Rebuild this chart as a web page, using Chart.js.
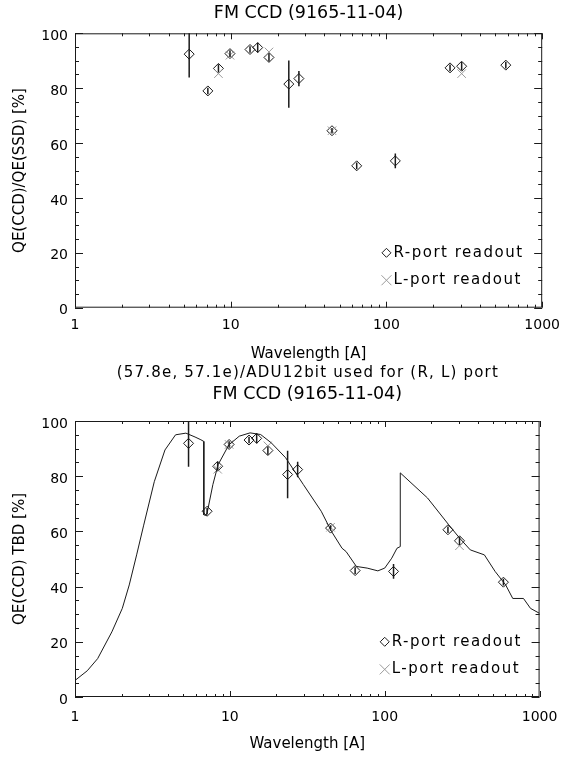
<!DOCTYPE html>
<html>
<head>
<meta charset="utf-8">
<script src="https://cdn.jsdelivr.net/npm/chart.js@4/dist/chart.umd.min.js"></script>
<style>
  body { margin: 0; background: #fff; }
  canvas { position: absolute; left: 0; }
  #ratioChart { top: 0; }
  #modelChart { top: 365px; }
</style>
</head>
<body>
<canvas id="ratioChart" width="569" height="365"></canvas>
<canvas id="modelChart" width="569" height="395"></canvas>
<script>
// measured lines (Angstrom)
const wavelengths = [5.41, 7.13, 8.34, 9.89, 13.3, 14.9, 17.6, 23.6, 27.4, 44.7, 64.4, 114, 256, 304, 584];
const lWavelengths = [8.34, 9.89, 17.6, 44.7, 304];

// QE(CCD)/QE(SSD) [%]
const ratioR = [92.4, 79.0, 87.2, 92.6, 94.1, 94.8, 91.2, 81.5, 83.5, 64.5, 51.7, 53.5, 87.4, 88.0, 88.4];
const ratioRErr = [8.5, 1.2, 1.5, 1.2, 1.2, 1.8, 1.5, 8.6, 2.8, 1.0, 1.2, 2.7, 1.2, 1.5, 1.2];
const ratioL = [85.3, 92.0, 93.2, 64.5, 85.3];

// QE(CCD) [%]
const qeR = [91.9, 67.3, 83.6, 91.5, 93.1, 93.7, 89.3, 80.6, 82.4, 61.2, 45.8, 45.5, 60.6, 56.6, 41.6];
const qeRErr = [8.5, 1.2, 1.5, 1.2, 1.2, 1.8, 1.5, 8.6, 2.8, 1.0, 1.2, 2.7, 1.2, 1.5, 1.2];
const qeL = [82.5, 91.5, 91.0, 61.5, 54.8];

// model QE curve
const modelWavelengths = [1, 1.2, 1.4, 1.73, 2.02, 2.24, 2.5, 2.77, 3.25, 3.81, 4.46, 5.2, 5.96, 6.5, 6.79,
  6.79, 7.0, 7.14, 7.77, 8.4, 9.84, 11.5, 13.5, 15.8, 18.5, 22.9, 29.8, 38.9, 45.3, 53, 56.3, 65.6, 77, 90.3,
  100, 111, 120, 126, 126, 189, 259, 304, 357, 440, 516, 604, 671, 787, 874, 1000];
const modelQE = [6.0, 9.5, 13.9, 23.6, 32.1, 40.6, 51.5, 62.0, 78.0, 89.5, 95.0, 95.6, 94.2, 93.2, 92.6,
  66.0, 65.8, 66.8, 77.0, 84.2, 91.3, 94.5, 95.7, 95.1, 92.1, 86.7, 77.0, 67.3, 60.0, 53.9, 52.7, 47.3, 46.7, 45.7,
  46.7, 50.3, 53.9, 54.5, 81.2, 72.1, 62.4, 57.6, 53.3, 51.5, 45.5, 40.6, 35.7, 35.7, 32.1, 30.3];

const xTickValues = [1, 10, 100, 1000];
const yTickStep = 20;

const BLACK = '#1a1a1a';
const GREY = '#9a9a9a';
const FONT = "'DejaVu Sans', sans-serif";

Chart.defaults.font.family = FONT;
Chart.defaults.color = '#000';

function toPoints(xs, ys) {
  return xs.map((x, i) => ({ x: x, y: ys[i] }));
}

function drawDiamond(ctx, x, y, r) {
  ctx.beginPath();
  ctx.moveTo(x, y - r);
  ctx.lineTo(x + r, y);
  ctx.lineTo(x, y + r);
  ctx.lineTo(x - r, y);
  ctx.closePath();
  ctx.stroke();
}

function drawCross(ctx, x, y, r) {
  ctx.beginPath();
  ctx.moveTo(x - r, y - r);
  ctx.lineTo(x + r, y + r);
  ctx.moveTo(x - r, y + r);
  ctx.lineTo(x + r, y - r);
  ctx.stroke();
}

// IDL style box: titles, frame, inward ticks, error bars, legend
const idlFrame = {
  id: 'idlFrame',
  afterDatasetsDraw(chart, args, opts) {
    const { ctx, chartArea: a, scales: { x, y } } = chart;
    ctx.save();

    // error bars on the R-port points
    const meta = chart.getDatasetMeta(opts.errorDataset);
    const pts = chart.data.datasets[opts.errorDataset].data;
    ctx.save();
    ctx.beginPath();
    ctx.rect(a.left, a.top, a.right - a.left, a.bottom - a.top);
    ctx.clip();
    ctx.strokeStyle = BLACK;
    ctx.lineWidth = 1.5;
    ctx.beginPath();
    meta.data.forEach((el, i) => {
      const e = opts.errors[i];
      ctx.moveTo(el.x, y.getPixelForValue(pts[i].y + e));
      ctx.lineTo(el.x, y.getPixelForValue(pts[i].y - e));
    });
    ctx.stroke();
    ctx.restore();

    // frame
    ctx.strokeStyle = BLACK;
    ctx.lineWidth = 1;
    ctx.strokeRect(a.left + 0.5, a.top + 0.5, a.right - a.left - 1, a.bottom - a.top - 1);

    // ticks
    ctx.beginPath();
    for (let v = 0; v <= 100; v += 5) {
      const py = Math.round(y.getPixelForValue(v)) + 0.5;
      const len = v % yTickStep === 0 ? 8 : 4;
      ctx.moveTo(a.left, py); ctx.lineTo(a.left + len, py);
      ctx.moveTo(a.right, py); ctx.lineTo(a.right - len, py);
    }
    for (let d = 1; d <= 1000; d *= 10) {
      for (let k = 1; k <= 9; k++) {
        const v = d * k;
        if (v > 1000) break;
        const px = Math.round(x.getPixelForValue(v)) + 0.5;
        const len = k === 1 ? 6 : 3;
        ctx.moveTo(px, a.bottom); ctx.lineTo(px, a.bottom - len);
        ctx.moveTo(px, a.top); ctx.lineTo(px, a.top + len);
      }
    }
    ctx.stroke();

    // titles, centred over the plot box
    ctx.fillStyle = '#000';
    ctx.textBaseline = 'middle';
    ctx.textAlign = 'center';
    opts.titles.forEach(t => {
      ctx.font = t.size + 'px ' + FONT;
      ctx.letterSpacing = t.spacing + 'px';
      ctx.fillText(t.text, (a.left + a.right) / 2 + t.spacing / 2, t.y);
    });

    // legend
    const lx = x.getPixelForValue(opts.legendX);
    const ry = y.getPixelForValue(opts.legendRows[0]);
    const ly = y.getPixelForValue(opts.legendRows[1]);
    ctx.strokeStyle = BLACK;
    drawDiamond(ctx, lx, ry, 4.5);
    ctx.strokeStyle = GREY;
    drawCross(ctx, lx, ly, 5);
    ctx.font = '15px ' + FONT;
    ctx.letterSpacing = '1.5px';
    ctx.textAlign = 'left';
    ctx.fillText('R-port readout', lx + 7, ry);
    ctx.fillText('L-port readout', lx + 7, ly);

    ctx.restore();
  }
};

function makeChart(canvasId, cfg) {
  return new Chart(document.getElementById(canvasId).getContext('2d'), {
    type: 'scatter',
    data: { datasets: cfg.datasets },
    options: {
      responsive: false,
      animation: false,
      layout: { padding: { left: 0, right: 19, top: cfg.top, bottom: 0 } },
      plugins: {
        legend: { display: false },
        tooltip: { enabled: false },
        title: { display: false },
        idlFrame: {
          titles: cfg.titles,
          errors: cfg.errors,
          errorDataset: cfg.errorDataset,
          legendX: 100,
          legendRows: [20, 10]
        }
      },
      scales: {
        x: {
          type: 'logarithmic',
          min: 1,
          max: 1000,
          grid: { display: false, drawTicks: false },
          border: { display: false },
          afterBuildTicks: s => { s.ticks = xTickValues.map(v => ({ value: v })); },
          afterFit: s => { s.height = cfg.xHeight; },
          ticks: { padding: cfg.xPad, font: { size: 14 }, maxRotation: 0, autoSkip: false, callback: v => String(v) },
          title: { display: true, text: 'Wavelength [A]', font: { size: 15 }, padding: { top: 0, bottom: cfg.xTitlePad } }
        },
        y: {
          min: 0,
          max: 100,
          grid: { display: false, drawTicks: false },
          border: { display: false },
          afterFit: s => { s.width = 75; },
          ticks: { stepSize: yTickStep, padding: 7, labelOffset: 3, font: { size: 14 } },
          title: { display: true, text: cfg.yTitle, font: { size: 15 }, padding: { top: 11, bottom: 0 } }
        }
      }
    },
    plugins: [idlFrame]
  });
}

// top: QE ratio
makeChart('ratioChart', {
  top: 33.3,
  titles: [{ text: 'FM CCD (9165-11-04)', size: 17.5, spacing: 0, y: 13 }],
  yTitle: 'QE(CCD)/QE(SSD) [%]',
  xHeight: 57.3,
  xPad: 9,
  xTitlePad: 1.6,
  errors: ratioRErr,
  errorDataset: 1,
  datasets: [
    {
      label: 'L-port readout',
      data: toPoints(lWavelengths, ratioL),
      pointStyle: 'crossRot',
      pointRadius: 6,
      borderColor: GREY,
      borderWidth: 1
    },
    {
      label: 'R-port readout',
      data: toPoints(wavelengths, ratioR),
      pointStyle: 'rectRot',
      pointRadius: 5,
      borderColor: BLACK,
      backgroundColor: 'rgba(0,0,0,0)',
      borderWidth: 1
    }
  ]
});

// bottom: absolute QE with model curve
makeChart('modelChart', {
  top: 56,
  titles: [
    { text: '(57.8e, 57.1e)/ADU12bit used for (R, L) port', size: 15, spacing: 1.2, y: 8 },
    { text: 'FM CCD (9165-11-04)', size: 17.5, spacing: 0, y: 29 }
  ],
  yTitle: 'QE(CCD) TBD [%]',
  xHeight: 63,
  xPad: 11.6,
  xTitlePad: 6.6,
  errors: qeRErr,
  errorDataset: 2,
  datasets: [
    {
      label: 'model',
      data: toPoints(modelWavelengths, modelQE),
      showLine: true,
      pointRadius: 0,
      borderColor: BLACK,
      borderWidth: 1,
      tension: 0
    },
    {
      label: 'L-port readout',
      data: toPoints(lWavelengths, qeL),
      pointStyle: 'crossRot',
      pointRadius: 6,
      borderColor: GREY,
      borderWidth: 1
    },
    {
      label: 'R-port readout',
      data: toPoints(wavelengths, qeR),
      pointStyle: 'rectRot',
      pointRadius: 5,
      borderColor: BLACK,
      backgroundColor: 'rgba(0,0,0,0)',
      borderWidth: 1
    }
  ]
});
</script>
</body>
</html>
